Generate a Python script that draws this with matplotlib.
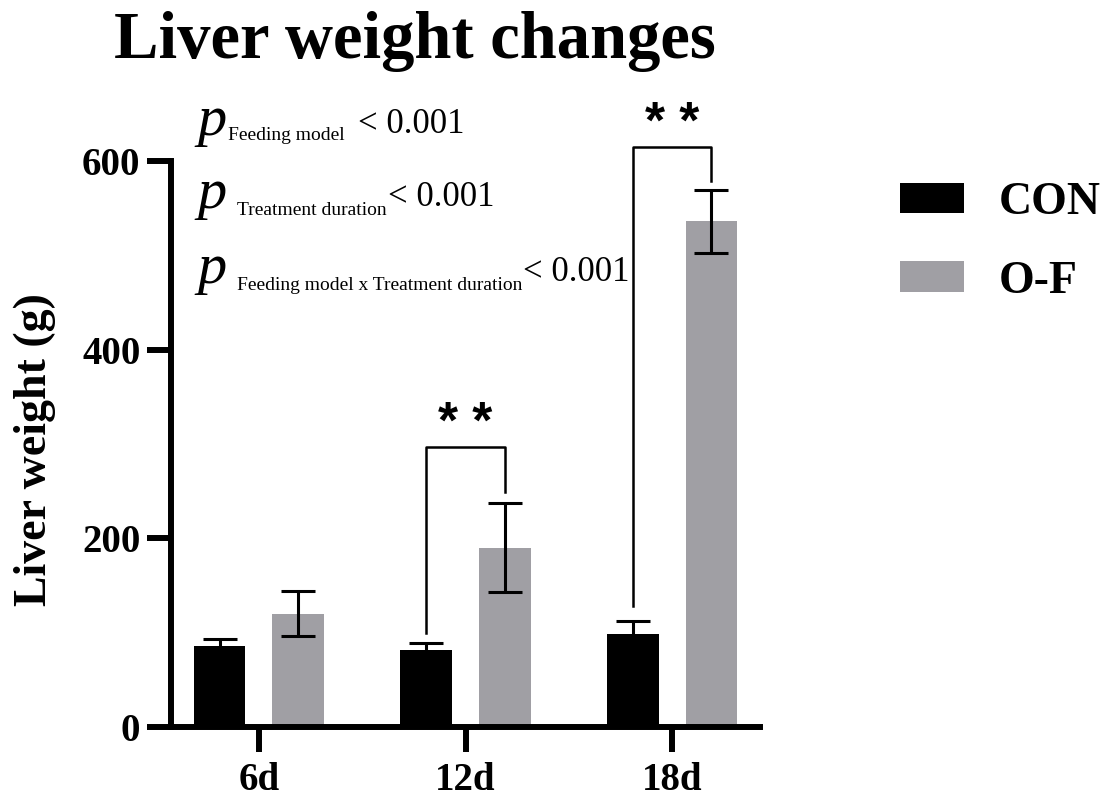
import matplotlib
matplotlib.use("Agg")
import matplotlib.pyplot as plt
import numpy as np
from matplotlib.patches import Patch

groups = ["6d", "12d", "18d"]
con_mean = [86, 82, 99]
con_err = [7, 7, 13]
of_mean = [120, 190, 536]
of_err = [24, 47, 33]
series_names = ["CON", "O-F"]
yticks = [0, 200, 400, 600]

# significance brackets: (group index, left-bottom, right-bottom, top, label y)
brackets = [(1, 100, 249, 297, 306), (2, 128, 579, 615, 624)]

SERIF = ["Liberation Serif", "DejaVu Serif"]
GRAY = "#a09fa4"

fig = plt.figure(figsize=(11.2, 8.05), dpi=100)
ax = fig.add_axes([171/1120, 1-727/805, (760-171)/1120, (727-161)/805])

x = np.arange(len(groups))
off = 0.19
w = 0.25
ax.bar(x - off, con_mean, w, color="black", zorder=2)
ax.bar(x + off, of_mean, w, color=GRAY, zorder=2)
ax.errorbar(x - off, con_mean, yerr=con_err, fmt="none", ecolor="black",
            elinewidth=2.2, capsize=12, capthick=2.2, zorder=3)
ax.errorbar(x + off, of_mean, yerr=of_err, fmt="none", ecolor="black",
            elinewidth=2.2, capsize=12, capthick=2.2, zorder=3)

for gi, lb, rb, top, ly in brackets:
    xl, xr = gi - off, gi + off
    ax.plot([xl, xl, xr, xr], [lb, top, top, rb], color="black", lw=1.8,
            clip_on=False, zorder=4)
    ax.text(gi, ly, "* *", ha="center", va="baseline", fontsize=37,
            family=["Liberation Sans", "DejaVu Sans"], fontweight="bold",
            clip_on=False)

ax.set_xlim(-0.425, 2.425)
ax.set_ylim(0, 600)
ax.set_yticks(yticks)
ax.set_xticks(x)
ax.set_xticklabels(groups)
for s in ["top", "right"]:
    ax.spines[s].set_visible(False)
for s in ["left", "bottom"]:
    ax.spines[s].set_linewidth(4.3)
    ax.spines[s].set_capstyle("projecting")
ax.tick_params(axis="y", length=17, width=4.3, pad=5)
ax.tick_params(axis="x", length=18, width=4.3, pad=7)
for lab in ax.get_yticklabels() + ax.get_xticklabels():
    lab.set_family(SERIF)
    lab.set_fontweight("bold")
    lab.set_fontsize(28)

fig.text(35/1120, 1-450/805, "Liver weight (g)", rotation=90, ha="center",
         va="center", family=SERIF, fontweight="bold", fontsize=33)
fig.text(415/1120, 1-41/805, "Liver weight changes", ha="center", va="center",
         family=SERIF, fontweight="bold", fontsize=48)

# p-value annotations
lines = [
    (135, 228, 140, "Feeding model", 358, 133),
    (208, 237, 215, "Treatment duration", 388, 206),
    (283, 237, 290, "Feeding model x Treatment duration", 523, 281),
]
for pb, sx, sb, sub, lx, lbase in lines:
    fig.text(197/1120, 1-pb/805, "p", style="italic", family=SERIF,
             fontsize=42, va="baseline", ha="left")
    fig.text(sx/1120, 1-sb/805, sub, family=SERIF, fontsize=14,
             va="baseline", ha="left")
    fig.text(lx/1120, 1-lbase/805, "< 0.001", family=SERIF, fontsize=25,
             va="baseline", ha="left")

handles = [Patch(facecolor="black", edgecolor="none"),
           Patch(facecolor=GRAY, edgecolor="none")]
fig.legend(handles, series_names, loc="upper left",
           bbox_to_anchor=(900/1120, 1-182/805), frameon=False,
           prop={"family": SERIF, "weight": "bold", "size": 33},
           handlelength=1.4, handleheight=0.65, handletextpad=0.75,
           labelspacing=0.8, borderpad=0, borderaxespad=0)

fig.savefig("out.png", dpi=100)
